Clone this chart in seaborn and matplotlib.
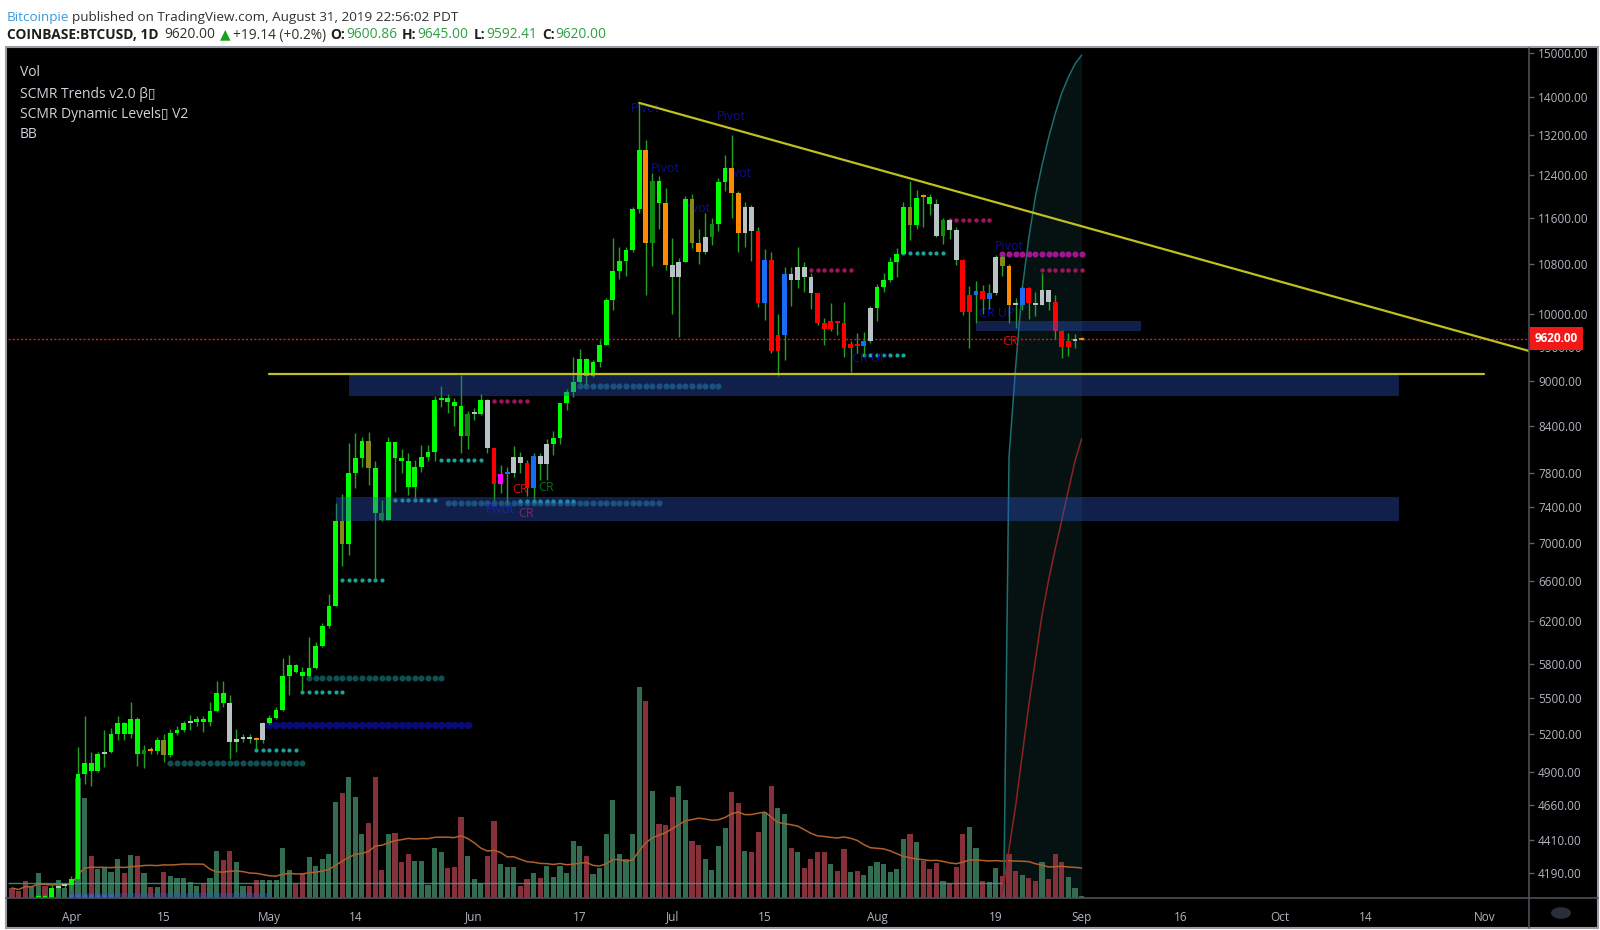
import numpy as np
import pandas as pd
import matplotlib
matplotlib.use("Agg")
import matplotlib.pyplot as plt
import matplotlib.dates as mdates
from matplotlib.patches import Rectangle, Circle
from matplotlib.lines import Line2D
from matplotlib.ticker import FixedLocator, NullLocator
import seaborn as sns

W, H = 1600, 930

# ---------------- data ----------------
dates = pd.date_range("2019-03-23", "2019-09-01", freq="D")

open_px = [
    3990, 3985, 3970, 3905, 3930, 4045, 4030, 4095, 4105,
    4110, 4150, 4890, 4970, 4910, 5040, 5060, 5200, 5290, 5200,
    5320, 5040, 5070, 5065, 5150, 5030, 5210, 5235, 5290, 5295,
    5325, 5300, 5390, 5540, 5455, 5140, 5160, 5170, 5160, 5150,
    5290, 5335, 5400, 5690, 5790, 5730, 5690, 5760, 5960, 6150,
    6350, 7240, 6990, 7800, 7990, 8200, 7870, 7340, 7260, 8190,
    7990, 7950, 7640, 7880, 8000, 8060, 8740, 8770, 8720, 8660, 8270,
    8550, 8560, 8740, 8110, 7670, 7790, 7800, 8000, 7930, 7630,
    8020, 7920, 8170, 8240, 8700, 8860, 8990, 9320, 9080, 9280,
    9530, 10220, 10680, 10860, 11040, 11760, 12900, 11160, 12300, 11880,
    10780, 10590, 10830, 11950, 11160, 11000, 11260, 11500, 12270, 12540,
    12060, 11340, 11810, 11380, 10170, 10870, 9430, 9680, 10640, 10540,
    10760, 10590, 10330, 9850, 9770, 9880, 9850, 9480, 9540, 9510, 9590,
    10090, 10420, 10530, 10830, 10980, 11800, 11480, 11990, 11985, 11860,
    11290, 11560, 11390, 10870, 10030, 10300, 10360, 10230, 10330, 10920,
    10770, 10140, 10130, 10400, 10160, 10140, 10370, 10190, 9740, 9500, 9590,
    9600.86,
]
high_px = [
    4000, 3990, 3975, 3945, 4060, 4055, 4110, 4130, 4115,
    4170, 5100, 5345, 5060, 5060, 5230, 5250, 5350, 5300, 5470,
    5340, 5110, 5100, 5180, 5200, 5240, 5270, 5310, 5360, 5350,
    5350, 5470, 5650, 5650, 5530, 5240, 5200, 5200, 5180, 5300,
    5360, 5420, 5850, 5880, 5800, 5770, 6050, 6000, 6180, 6470,
    7450, 7550, 8180, 8300, 8250, 8320, 7950, 7480, 8260, 8190,
    8100, 8050, 7960, 8150, 8150, 8800, 8940, 8820, 8770, 9090, 8590,
    8630, 8820, 8750, 8110, 7900, 7880, 8140, 8060, 7960, 8050,
    8050, 8230, 8330, 8700, 8900, 9350, 9460, 9340, 9300, 9600,
    10240, 11250, 11100, 11100, 11800, 13880, 13100, 12450, 12380, 12150,
    11250, 10900, 12000, 12050, 11400, 11700, 11600, 12350, 12800, 13200,
    12100, 11900, 11850, 11450, 11050, 11000, 9990, 10750, 10750, 11100,
    10830, 10660, 10330, 9930, 10170, 9890, 10190, 9580, 9700, 9720, 10120,
    10480, 10660, 10920, 11080, 11900, 12300, 12120, 12050, 12050, 11950,
    11600, 11570, 11450, 10880, 10440, 10520, 10460, 10480, 10950, 10950,
    10800, 10240, 10440, 10420, 10350, 10650, 10380, 10290, 9750, 9700, 9690,
    9645,
]
low_px = [
    3975, 3960, 3880, 3895, 3925, 4015, 4025, 4075, 4090,
    4080, 4145, 4810, 4800, 4900, 4940, 5050, 5150, 5150, 5170,
    4950, 4930, 5040, 5040, 4980, 5020, 5190, 5220, 5230, 5270,
    5220, 5270, 5380, 5420, 5000, 5060, 5140, 5130, 5080, 5130,
    5280, 5320, 5390, 5530, 5720, 5560, 5680, 5750, 5950, 6130,
    6350, 6750, 6870, 7620, 7880, 7660, 6600, 7240, 7250, 7580,
    7800, 7540, 7500, 7820, 7950, 7950, 8650, 8570, 8400, 8050, 8100,
    8480, 8540, 8050, 7480, 7570, 7450, 7760, 7800, 7530, 7500,
    7720, 7720, 8030, 8170, 8610, 8790, 8980, 8950, 9060, 9200,
    9530, 10060, 10550, 10600, 11000, 11700, 10300, 10770, 11400, 10700,
    10000, 9650, 10830, 11080, 10800, 10980, 11130, 11370, 12100, 11600,
    11000, 11100, 10850, 10100, 9900, 9400, 9080, 9300, 10120, 10400,
    10350, 10080, 9820, 9530, 9740, 9680, 9350, 9130, 9400, 9380, 9560,
    9880, 10350, 10510, 10580, 10980, 11220, 11400, 11450, 11650, 11270,
    11140, 11230, 10780, 9980, 9480, 9850, 9990, 10080, 10300, 10600,
    9850, 9780, 10060, 9910, 9970, 10140, 10060, 9610, 9330, 9370, 9480,
    9592.41,
]
close_px = [
    3985, 3970, 3905, 3930, 4045, 4030, 4095, 4105, 4110,
    4150, 4890, 4970, 4910, 5040, 5060, 5200, 5290, 5200, 5320,
    5040, 5070, 5065, 5150, 5030, 5210, 5235, 5290, 5295, 5325,
    5300, 5390, 5540, 5455, 5140, 5160, 5170, 5160, 5150, 5290,
    5335, 5400, 5690, 5790, 5730, 5690, 5760, 5960, 6150, 6350,
    7240, 6990, 7800, 7990, 8200, 7870, 7340, 7260, 8190, 7990,
    7950, 7640, 7880, 8000, 8060, 8740, 8770, 8720, 8660, 8270, 8550,
    8560, 8740, 8110, 7670, 7790, 7800, 8000, 7930, 7630, 8020,
    7920, 8170, 8240, 8700, 8860, 8990, 9320, 9080, 9280, 9530,
    10220, 10680, 10860, 11040, 11760, 12900, 11160, 12300, 11880, 10780,
    10590, 10830, 11950, 11160, 11000, 11260, 11500, 12270, 12540, 12060,
    11340, 11810, 11380, 10170, 10870, 9430, 9680, 10640, 10540, 10760,
    10590, 10330, 9850, 9770, 9880, 9850, 9480, 9540, 9510, 9590, 10090,
    10420, 10530, 10830, 10980, 11800, 11480, 11970, 11985, 11860, 11290,
    11560, 11390, 10870, 10030, 10300, 10360, 10230, 10330, 10920, 10770,
    10140, 10130, 10400, 10160, 10140, 10370, 10190, 9740, 9500, 9590, 9600.86,
    9620,
]
# trend colour of each candle body (SCMR Trends)
body_code = (
    "G G G G G G G Y Y "
    "G G G G G Y G G G G G D N G O G G G Y G G G G G Y Y Y Y N Y "
    "G G G G G G G G G G G O G G G O G D G G G G G G G G G G G G D "
    "Y G Y R M B Y Y R B Y Y G G G G G G G G G G G G G G N D G N "
    "Y Y G O N Y D G G N N Y Y R B R R B Y Y Y Y R R R R R R R B Y "
    "G G G G G O G N G Y D Y Y R R B R B Y O N Y B R Y Y Y R R R Y "
    "N"
).split()
volume = [
    10, 7, 17, 11, 25, 12, 9, 18, 10,
    19, 120, 100, 42, 29, 31, 26, 39, 25, 43,
    42, 25, 11, 11, 26, 22, 20, 20, 16, 12,
    15, 20, 47, 38, 47, 36, 12, 12, 18, 18,
    18, 18, 50, 28, 14, 24, 41, 32, 39, 44,
    96, 105, 121, 101, 64, 75, 121, 28, 64, 65,
    36, 44, 37, 37, 13, 50, 46, 30, 31, 81, 42,
    19, 15, 42, 77, 34, 31, 31, 12, 19, 25,
    20, 32, 21, 32, 25, 57, 52, 42, 24, 30,
    64, 98, 44, 39, 64, 211, 197, 107, 74, 73,
    101, 112, 98, 57, 53, 39, 28, 52, 70, 106,
    95, 47, 46, 66, 86, 112, 90, 84, 50, 46,
    30, 39, 46, 46, 34, 27, 49, 26, 27, 23, 32,
    36, 34, 26, 29, 59, 64, 56, 37, 29, 35,
    17, 15, 31, 64, 71, 50, 17, 16, 30, 22,
    44, 27, 23, 20, 17, 36, 19, 44, 36, 21, 10,
    2,
]

# SCMR dynamic levels (dotted)
lvl_start = ["2019-04-16", "2019-04-29", "2019-05-01", "2019-05-06", "2019-05-07",
             "2019-05-12", "2019-05-20", "2019-05-27", "2019-05-28", "2019-06-08",
             "2019-06-03", "2019-06-17", "2019-07-22", "2019-07-30", "2019-08-05",
             "2019-08-12", "2019-08-20", "2019-08-26", "2019-04-01"]
lvl_end = ["2019-05-06", "2019-05-05", "2019-05-31", "2019-05-12", "2019-05-27",
           "2019-05-18", "2019-05-26", "2019-06-02", "2019-06-29", "2019-06-16",
           "2019-06-09", "2019-07-08", "2019-07-28", "2019-08-05", "2019-08-11",
           "2019-08-18", "2019-09-01", "2019-09-01", "2019-04-07"]
lvl_price = [4969, 5076, 5277, 5555, 5672, 6609, 7485, 7965, 7447, 7470,
             8730, 8940, 10700, 9380, 10990, 11570, 10970, 10700, 4045]
lvl_kind = ["teal_big", "teal", "navy_big", "teal", "teal_big", "teal", "teal", "teal",
            "teal_big", "teal", "magenta", "teal_big", "magenta", "teal", "teal",
            "magenta", "magenta_big", "magenta", "blue"]

# drawn zones
rect_start = ["2019-05-13", "2019-05-11", "2019-08-16", "2019-04-01"]
rect_end = ["2019-10-19", "2019-10-19", "2019-09-10", "2019-05-01"]
rect_low = [8800, 7245, 9741, 4025]
rect_high = [9105, 7521, 9888, 4062]

# drawn lines
support_dates = ["2019-05-01", "2019-11-01"]
support_price = [9100, 9100]
trend_dates = ["2019-06-26", "2019-11-08"]
trend_price = [13880, 9430]

# bollinger band part
bb_dates = pd.date_range("2019-08-20", "2019-09-01", freq="D")
bb_upper = [3400, 8000, 9200, 10400, 11250, 12000, 12600, 13150, 13650, 14100, 14450, 14750, 14950]
bb_basis = [4062, 4350, 4650, 5034, 5442, 5837, 6259, 6609, 6936, 7255, 7602, 7953, 8231]
bb_flat_level = 4127

# labels
txt_date = ["2019-06-26 21:00", "2019-07-10", "2019-06-30", "2019-07-10 19:00",
            "2019-07-04 17:00", "2019-08-21", "2019-08-19 05:00", "2019-08-21 05:00",
            "2019-07-30 22:00", "2019-06-07 22:00", "2019-06-11 22:00",
            "2019-06-04 22:00", "2019-06-08 19:00"]
txt_price = [13750, 13580, 12540, 12430, 11770, 11110, 10010, 9583, 9320,
             7602, 7627, 7370, 7325]
txt_label = ["Pivot", "Pivot", "Pivot", "Pivot", "Pivot", "Pivot", "CR UP", "CR",
             "CR UP", "CR", "CR", "Pivot", "CR"]
txt_kind = ["navy", "navy", "navy", "navy", "navy", "navy", "navy", "red",
            "navy", "red", "green", "navy", "crimson"]

y_ticks = [15000, 14000, 13200, 12400, 11600, 10800, 10000, 9500, 9000, 8400, 7800,
           7400, 7000, 6600, 6200, 5800, 5500, 5200, 4900, 4660, 4410, 4190]
x_tick_dates = ["2019-04-01", "2019-04-15", "2019-05-01", "2019-05-14", "2019-06-01",
                "2019-06-17", "2019-07-01", "2019-07-15", "2019-08-01", "2019-08-19",
                "2019-09-01", "2019-09-16", "2019-10-01", "2019-10-14", "2019-11-01"]
x_tick_labels = ["Apr", "15", "May", "14", "Jun", "17", "Jul", "15", "Aug", "19",
                 "Sep", "16", "Oct", "14", "Nov"]

# ---------------- styling ----------------
sns.set_theme(style="dark", rc={"axes.facecolor": "black", "figure.facecolor": "white"})
plt.rcParams["font.family"] = ["Open Sans", "DejaVu Sans"]

PALETTE = {"G": "#00ff00", "D": "#0e8a0e", "O": "#868619", "Y": "#b9c2c4",
           "R": "#ff0000", "N": "#ff8a00", "B": "#1a6cf5", "M": "#ff00ff"}
WICK = "#21a021"
VOL_UP, VOL_DN = "#336c50", "#86303a"
LEVEL_STYLE = {
    "teal": dict(color="#18a59a", ms=3.0),
    "teal_big": dict(color="#0f5052", ms=4.4),
    "navy_big": dict(color="#0a0a74", ms=5.4),
    "magenta": dict(color="#a0145e", ms=3.2),
    "magenta_big": dict(color="#a31490", ms=4.4),
    "blue": dict(color="#4a6cc4", ms=3.0),
}
TXT_COLOR = {"navy": "#0d0d96", "red": "#d01010", "green": "#0b6e1a", "crimson": "#a0103e"}
GRAY_LINE = "#4c4f58"
LABEL = "#b2b5be"


def fx(px):
    return px / W


def fy(py):
    return 1 - py / H


def dnum(s):
    return mdates.date2num(pd.to_datetime(s))


fig = plt.figure(figsize=(W / 100, H / 100), dpi=100)
renderer = fig.canvas.get_renderer()
fig.add_artist(Rectangle((fx(6), fy(928)), fx(1598) - fx(6), fy(47) - fy(928),
                         transform=fig.transFigure, facecolor="black",
                         edgecolor="#9a9da6", lw=1.5, zorder=0))

ax = fig.add_axes([fx(8), fy(898), fx(1529) - fx(8), fy(48) - fy(898)])
ax_vol = ax.twinx()
ax.set_zorder(2)
ax_vol.set_zorder(1)
ax.patch.set_visible(False)
ax_vol.patch.set_visible(False)

xnum = mdates.date2num(dates)
o = np.array(open_px, float)
h = np.array(high_px, float)
l = np.array(low_px, float)
c = np.array(close_px, float)
x_left = dnum("2019-04-01") - 9.6
x_right = dnum("2019-04-01") + 220.75

ax.set_yscale("log")
ax.set_ylim(4030, 15117)
ax.set_xlim(x_left, x_right)

# ---------------- volume pane ----------------
vol_colors = np.where(c >= o, VOL_UP, VOL_DN)
ax_vol.bar(xnum, volume, width=0.78, color=vol_colors, linewidth=0, zorder=2)
vol_ma = pd.Series(volume, dtype=float).rolling(20, min_periods=1).mean()
sns.lineplot(x=xnum, y=vol_ma.values, ax=ax_vol, color="#b0602a", lw=1.1, zorder=3)
ax_vol.set_ylim(0, 850)
ax_vol.set_yticks([])
ax_vol.set_ylabel("")
for s in ax_vol.spines.values():
    s.set_visible(False)

# BB shading, placed in the volume pane below the bars
bbx = mdates.date2num(bb_dates)
pts = ax.transData.transform(np.column_stack([bbx, bb_upper]))
bb_frac = np.clip(ax.transAxes.inverted().transform(pts)[:, 1], 0, 1)
ax_vol.fill_between(bbx, 0, bb_frac, transform=ax_vol.get_xaxis_transform(),
                    color="#0d2424", alpha=0.5, lw=0, zorder=0)

# ---------------- price pane ----------------
ax.axhline(c[-1], color="#d41c1c", ls=(0, (1.5, 1.5)), lw=1, zorder=2)
ax.hlines(bb_flat_level, x_left, bbx[0], color="#3d9e92", lw=1, alpha=0.85, zorder=2)
sns.lineplot(x=bbx, y=bb_upper, ax=ax, color="#1e6e6e", lw=1.1, zorder=2)
sns.lineplot(x=bbx, y=bb_basis, ax=ax, color="#8b2323", lw=1.1, zorder=2)

for s, e, p, k in zip(lvl_start, lvl_end, lvl_price, lvl_kind):
    d = mdates.date2num(pd.date_range(s, e, freq="D"))
    ax.plot(d, np.full(len(d), p), ls="none", marker="o", mec="none", zorder=3,
            **LEVEL_STYLE[k])

for d, p, t, k in zip(txt_date, txt_price, txt_label, txt_kind):
    ax.text(dnum(d), p, t, color=TXT_COLOR[k], fontsize=9, ha="center", va="center",
            zorder=3.5)

# candles
ax.vlines(xnum, l, h, color=WICK, lw=1, zorder=4)
body_lo = np.minimum(o, c)
body_hi = np.maximum(np.maximum(o, c), body_lo * 1.003)
ax.bar(xnum, body_hi - body_lo, bottom=body_lo, width=0.72,
       color=[PALETTE[k] for k in body_code], linewidth=0, zorder=5)

# zones over the candles
for s, e, lo, hi in zip(rect_start, rect_end, rect_low, rect_high):
    x0, x1 = dnum(s), dnum(e)
    ax.add_patch(Rectangle((x0, lo), x1 - x0, hi - lo, facecolor="#2d55c8",
                           alpha=0.38, lw=0, zorder=6))

ax.plot(dnum(support_dates), support_price, color="#c0c020", lw=1.6, zorder=7)
ax.plot(dnum(trend_dates), trend_price, color="#c0c020", lw=1.6, zorder=7)

ax.set_xlim(x_left, x_right)
ax.set_ylim(4030, 15117)

# ---------------- axes ----------------
ax.yaxis.tick_right()
ax.yaxis.set_major_locator(FixedLocator(y_ticks))
ax.yaxis.set_minor_locator(NullLocator())
ax.set_yticklabels([f"{v:.2f}" for v in y_ticks])
ax.set_xticks(dnum(x_tick_dates))
ax.set_xticklabels(x_tick_labels)
ax.tick_params(axis="y", which="major", direction="out", length=3.5, width=1,
               color="#5d606b", labelcolor=LABEL, labelsize=8.5, pad=3,
               left=False, right=True, labelleft=False, labelright=True)
ax.tick_params(axis="x", which="major", direction="out", length=3, width=1,
               color="#5d606b", labelcolor=LABEL, labelsize=8.5, pad=6)
ax.set_xlabel("")
ax.set_ylabel("")
ax.grid(False)
ax_vol.grid(False)
for s in ax.spines.values():
    s.set_visible(False)

# last price tag sits on top of the 9500 tick, as in the reference
ax.text(1.0 + 6 / 1521, c[-1], f"{c[-1]:.2f}", transform=ax.get_yaxis_transform(),
        ha="left", va="center", color="white", fontsize=8.5, fontweight="bold",
        bbox=dict(boxstyle="square,pad=0.45", fc="#f21818", ec="none"),
        zorder=20, clip_on=False)

fig.add_artist(Line2D([fx(1529), fx(1529)], [fy(48), fy(928)], transform=fig.transFigure,
                      color=GRAY_LINE, lw=1.2, zorder=5))
fig.add_artist(Line2D([fx(6), fx(1598)], [fy(898), fy(898)], transform=fig.transFigure,
                      color=GRAY_LINE, lw=1.2, zorder=5))
fig.add_artist(Circle((fx(1561), fy(913)), 10 / W, transform=fig.transFigure,
                      facecolor="#2a2e39", edgecolor="none", zorder=5))
fig.text(fx(1561), fy(913), "A", color="#8a8d96", fontsize=8, ha="center", va="center")

# ---------------- legend and header ----------------
for ypx, t in [(73, "Vol"), (95, "SCMR Trends v2.0 \u03b2\u25af"),
               (115, "SCMR Dynamic Levels\u25af V2"), (134, "BB")]:
    fig.text(fx(20), fy(ypx), t, color="#d1d4dc", fontsize=10, ha="left", va="center")


def put_segments(ypx, x0, segs, size):
    """Write text pieces one after another on a header line."""
    x = x0
    for t, col, wt, gap in segs:
        tx = fig.text(fx(x), fy(ypx), t, color=col, fontsize=size, fontweight=wt,
                      ha="left", va="center")
        x += tx.get_window_extent(renderer=renderer).width + gap


DARK = "#1e1e1e"
GREEN_TXT = "#2ea043"
put_segments(17, 7, [
    ("Bitcoinpie", "#3c99dc", "normal", 3),
    ("published on TradingView.com, August 31, 2019 22:56:02 PDT", "#303030", "normal", 0),
], 9.7)
put_segments(35, 7, [
    ("COINBASE:BTCUSD, 1D", DARK, "bold", 6),
    ("9620.00", "#303030", "normal", 4),
    ("\u25b2", "#1aa01a", "normal", 3),
    ("+19.14 (+0.2%)", "#303030", "normal", 4),
    ("O:", DARK, "bold", 1),
    ("9600.86", GREEN_TXT, "normal", 5),
    ("H:", DARK, "bold", 1),
    ("9645.00", GREEN_TXT, "normal", 5),
    ("L:", DARK, "bold", 1),
    ("9592.41", GREEN_TXT, "normal", 5),
    ("C:", DARK, "bold", 1),
    ("9620.00", GREEN_TXT, "normal", 0),
], 9.9)

fig.savefig("out.png", dpi=100, facecolor="white")
